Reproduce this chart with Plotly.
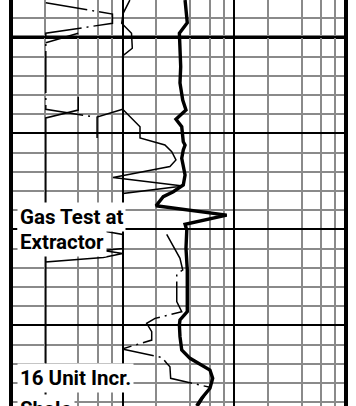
import plotly.graph_objects as go

# ---- gas log readings (depth in ft, gas in units) ----
total_gas_depth = [4980.6, 4992.4, 4997.9, 5003.0, 5015.3, 5023.8, 5032.7, 5037.9, 5042.7, 5046.6,
                   5050.9, 5054.4, 5056.1, 5058.7, 5063.0, 5066.5, 5071.7, 5076.9, 5080.4, 5083.0,
                   5087.7, 5092.6, 5097.4, 5100.4, 5109.9, 5121.2, 5142.9, 5147.2, 5149.8, 5155.9,
                   5162.9, 5167.2, 5170.7, 5173.3, 5177.6, 5182.8, 5188.0, 5192.0]
total_gas = [36.2, 37.9, 32.2, 32.6, 33.1, 32.6, 34.5, 36.9, 30.0, 33.8,
             34.2, 34.9, 36.2, 34.9, 33.8, 34.9, 36.2, 34.9, 28.4, 23.1,
             19.9, 85.4, 36.2, 37.5, 36.9, 37.9, 37.9, 32.6, 32.2, 32.6,
             33.8, 40.1, 51.0, 60.5, 64.0, 60.5, 51.0, 46.0]

methane_depth = [4980.6, 4987.5, 4992.7, 4997.9, 5005.7, 5009.7, 5037.5, 5046.6, 5052.4, 5056.1,
                 5059.6, 5063.9, 5067.3, 5073.0, 5077.4, 5081.3, 5099.3, 5100.9, 5102.7, 5110.0,
                 5111.0, 5112.6, 5114.7, 5117.0, 5192.0]
methane = [11.6, 10.1, 9.8, 12.0, 12.2, 10.0, 10.0, 14.3, 14.3, 23.9,
           27.5, 30.0, 26.5, 8.2, 34.7, 10.1, 10.0, 6.7, 10.0, 10.0,
           6.7, 10.0, 6.7, 2.05, 2.05]

ethane_depth = [4982.0, 4987.9, 4992.7, 4997.9, 5037.5, 5041.4]
ethane = [2.05, 8.1, 8.1, 2.05, 2.05, 5.5]

propane_depth = [5037.5, 5041.5, 5052.4]
propane = [10.0, 5.9, 5.9]

butane_depth = [4997.9, 5002.8, None, 5031.1, 5037.9, 5042.0, 5117.0]
butane = [4.0, 2.05, None, 4.0, 4.0, 2.05, 2.05]

extractor_depth = [5102.6, 5115.1, 5121.2, 5123.3, 5137.7, 5142.9, 5146.4, 5149.0, 5153.3, 5157.7,
                   5162.3, 5166.0, 5166.8, 5169.8, 5171.6, 5177.6, 5182.3, 5192.0]
extractor_gas = [24.8, 32.6, 34.5, 30.5, 30.5, 33.8, 19.5, 16.4, 18.2, 18.2,
                 9.9, 18.8, 22.5, 24.8, 26.5, 26.9, 60.5, 47.6]

depth_top, depth_bottom = 4980.57, 5192.03
minor_gas_lines = [2, 4, 6, 8, 20, 40, 60, 80, 200, 400, 600, 800]

notes = [("Gas Test at", 0.4655), ("Extractor", 0.4039), ("16 Unit Incr.", 0.0690), ("Shale", -0.0074)]

DASHDOT = "42px,5px,2px,5px"

fig = go.Figure()
fig.add_trace(go.Scatter(x=ethane, y=ethane_depth, mode="lines",
                         line=dict(color="black", width=1.5, dash=DASHDOT)))
fig.add_trace(go.Scatter(x=butane, y=butane_depth, mode="lines", connectgaps=False,
                         line=dict(color="black", width=1.5)))
fig.add_trace(go.Scatter(x=propane, y=propane_depth, mode="lines",
                         line=dict(color="black", width=1.5)))
fig.add_trace(go.Scatter(x=methane, y=methane_depth, mode="lines",
                         line=dict(color="black", width=1.5)))
fig.add_trace(go.Scatter(x=extractor_gas, y=extractor_depth, mode="lines",
                         line=dict(color="black", width=1.5, dash=DASHDOT)))
fig.add_trace(go.Scatter(x=total_gas, y=total_gas_depth, mode="lines",
                         line=dict(color="black", width=3.4)))

fig.update_xaxes(type="log", range=[0, 3], dtick=1, showgrid=True, gridcolor="black", gridwidth=1.8,
                 showticklabels=False, ticks="", zeroline=False, showline=False,
                 minor=dict(tickmode="array", tickvals=minor_gas_lines, showgrid=True,
                            gridcolor="#8a8a8a", gridwidth=2, ticks=""))
fig.update_yaxes(range=[depth_bottom, depth_top], tick0=5000, dtick=50, showgrid=True,
                 gridcolor="black", gridwidth=1.5, showticklabels=False, ticks="",
                 zeroline=False, showline=False,
                 minor=dict(dtick=10, showgrid=True, gridcolor="#8a8a8a", gridwidth=2, ticks=""))

# heavy depth marker and track borders
fig.add_shape(type="line", xref="paper", yref="y", x0=0, x1=1, y0=5000, y1=5000,
              line=dict(color="black", width=3.5), layer="between")
for xp in (0, 1):
    fig.add_shape(type="line", xref="paper", yref="paper", x0=xp, x1=xp, y0=0, y1=1,
                  line=dict(color="black", width=4), layer="above")

for text, yp in notes:
    fig.add_annotation(text=text, xref="paper", yref="paper", x=0.0179, y=yp,
                       xanchor="left", yanchor="middle", showarrow=False,
                       bgcolor="white", borderpad=2,
                       font=dict(family="Roboto", size=20.5, color="black", weight="bold"))

fig.update_layout(width=356, height=406, margin=dict(l=11, r=10, t=0, b=0),
                  paper_bgcolor="white", plot_bgcolor="white", showlegend=False)

fig.write_html("out.html")
